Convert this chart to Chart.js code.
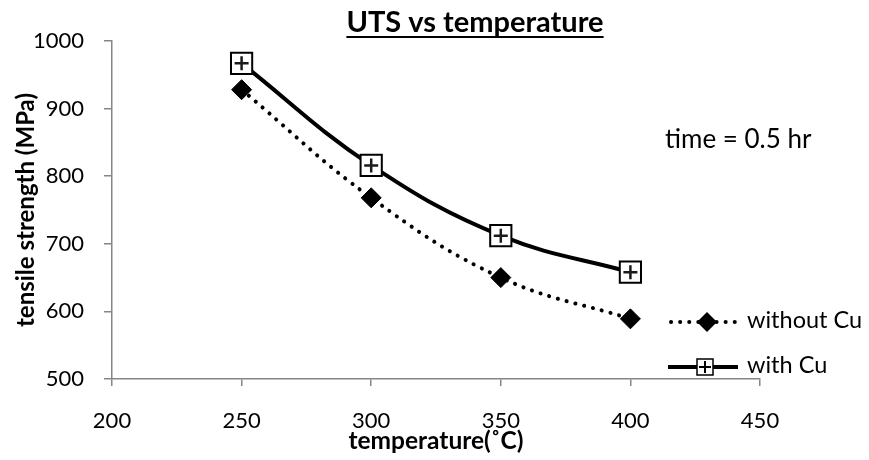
<!DOCTYPE html>
<html>
<head>
<meta charset="utf-8">
<script src="https://cdn.jsdelivr.net/npm/chart.js@4.4.1/dist/chart.umd.min.js"></script>
<style>
  body { margin: 0; background: #fff; }
</style>
</head>
<body>
<canvas id="utsChart" width="869" height="460"></canvas>
<script>
// temperature (C) vs tensile strength (MPa), time = 0.5 hr
const temperatures = [250, 300, 350, 400];
const withoutCu = [928, 768, 650, 589];
const withCu = [967, 816, 712, 658];
const xTicks = [200, 250, 300, 350, 400, 450];
const yTicks = [500, 600, 700, 800, 900, 1000];

const chartTitle = 'UTS vs temperature';
const xTitle = 'temperature(˚C)';
const yTitle = 'tensile strength (MPa)';
const note = 'time = 0.5 hr';
const seriesNames = ['without Cu', 'with Cu'];

const FONT = 'Lato, "Open Sans", sans-serif';
const AXIS_GREY = '#868686';

function toPoints(values) {
    return temperatures.map((t, i) => ({ x: t, y: values[i] }));
}

// draws title (underlined), x axis title, note and legend
const textPlugin = {
    id: 'textPlugin',
    afterDraw(chart) {
        const ctx = chart.ctx;
        const area = chart.chartArea;
        ctx.save();
        ctx.fillStyle = '#000';
        ctx.textBaseline = 'alphabetic';

        // title
        ctx.font = 'bold 29px ' + FONT;
        ctx.textAlign = 'center';
        const tx = 475, ty = 32;
        ctx.fillText(chartTitle, tx, ty);
        const tw = ctx.measureText(chartTitle).width;
        ctx.fillRect(tx - tw / 2, ty + 4, tw, 2);

        // x axis title
        ctx.font = 'bold 24.5px ' + FONT;
        ctx.fillText(xTitle, (area.left + area.right) / 2, 449);

        // note
        ctx.font = '26px ' + FONT;
        ctx.textAlign = 'left';
        ctx.fillText(note, 665, 148);

        // legend
        const rows = [322, 367];
        ctx.lineCap = 'round';
        // row 1: dotted line + diamond
        ctx.strokeStyle = '#000';
        ctx.lineWidth = 4;
        ctx.setLineDash([0.1, 9]);
        ctx.beginPath();
        ctx.moveTo(671, rows[0]);
        ctx.lineTo(737, rows[0]);
        ctx.stroke();
        ctx.setLineDash([]);
        ctx.beginPath();
        ctx.moveTo(707 - 10, rows[0]);
        ctx.lineTo(707, rows[0] - 10);
        ctx.lineTo(707 + 10, rows[0]);
        ctx.lineTo(707, rows[0] + 10);
        ctx.closePath();
        ctx.fill();
        // row 2: solid line + square with plus
        ctx.lineCap = 'butt';
        ctx.beginPath();
        ctx.moveTo(668, rows[1]);
        ctx.lineTo(738, rows[1]);
        ctx.stroke();
        ctx.fillStyle = '#fff';
        ctx.fillRect(697, rows[1] - 8, 16, 16);
        ctx.lineWidth = 1.5;
        ctx.strokeRect(697, rows[1] - 8, 16, 16);
        ctx.lineWidth = 2;
        ctx.beginPath();
        ctx.moveTo(705, rows[1] - 6);
        ctx.lineTo(705, rows[1] + 6);
        ctx.moveTo(699, rows[1]);
        ctx.lineTo(711, rows[1]);
        ctx.stroke();

        ctx.fillStyle = '#000';
        ctx.font = '23.5px ' + FONT;
        ctx.fillText(seriesNames[0], 747, rows[0] + 6);
        ctx.fillText(seriesNames[1], 747, rows[1] + 6);
        ctx.restore();
    }
};

new Chart(document.getElementById('utsChart'), {
    type: 'line',
    data: {
        datasets: [
            {
                label: seriesNames[0],
                data: toPoints(withoutCu),
                order: 2,
                borderColor: '#000',
                backgroundColor: '#000',
                borderWidth: 4,
                borderDash: [0.1, 9],
                borderCapStyle: 'round',
                tension: 0.4,
                pointStyle: 'rectRot',
                pointRadius: 10,
                pointBorderWidth: 1,
                pointBackgroundColor: '#000',
                pointBorderColor: '#000'
            },
            {
                label: seriesNames[1],
                data: toPoints(withCu),
                order: 1,
                borderColor: '#000',
                borderWidth: 4,
                tension: 0.4,
                pointStyle: 'rect',
                pointRadius: 15,
                pointBorderWidth: 2,
                pointBackgroundColor: '#fff',
                pointBorderColor: '#000'
            },
            {
                // plus sign inside the squares, drawn on top
                label: 'cross',
                data: toPoints(withCu),
                order: 0,
                showLine: false,
                pointStyle: 'cross',
                pointRadius: 7,
                pointBorderWidth: 2.5,
                pointBorderColor: '#1a1a1a'
            }
        ]
    },
    options: {
        responsive: false,
        animation: false,
        layout: { padding: { left: 0, right: 109, top: 41, bottom: 0 } },
        plugins: {
            legend: { display: false },
            tooltip: { enabled: false },
            title: { display: false }
        },
        scales: {
            x: {
                type: 'linear',
                min: 200,
                max: 450,
                afterBuildTicks: s => { s.ticks = xTicks.map(v => ({ value: v })); },
                afterFit: s => { s.height = 81; },
                grid: { drawOnChartArea: false, drawTicks: true, tickLength: 7, color: AXIS_GREY, lineWidth: 1.5 },
                border: { color: AXIS_GREY, width: 1.5 },
                ticks: { color: '#000', font: { family: FONT, size: 22 }, padding: 22, maxRotation: 0, callback: v => String(v) }
            },
            y: {
                min: 500,
                max: 1000,
                afterBuildTicks: s => { s.ticks = yTicks.map(v => ({ value: v })); },
                afterFit: s => { s.width = 112; },
                grid: { drawOnChartArea: false, drawTicks: true, tickLength: 8, color: AXIS_GREY, lineWidth: 1.5 },
                border: { color: AXIS_GREY, width: 1.5 },
                ticks: { color: '#000', font: { family: FONT, size: 22 }, padding: 20, callback: v => String(v) },
                title: {
                    display: true,
                    text: yTitle,
                    color: '#000',
                    font: { family: FONT, size: 24, weight: 'bold' },
                    padding: { top: 12, bottom: 0 }
                }
            }
        }
    },
    plugins: [textPlugin]
});
</script>
</body>
</html>
